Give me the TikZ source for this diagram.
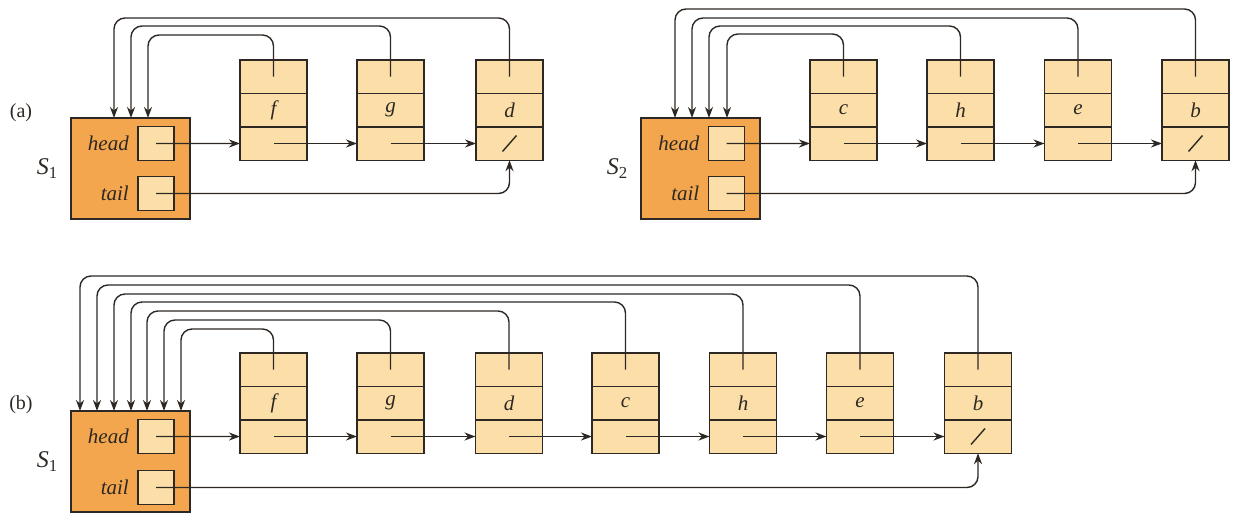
\documentclass[tikz,border=0pt]{standalone}
\usepackage{fontspec}
\setmainfont{Liberation Serif}
\usepackage{xcolor}
\usepackage{tikz}
\usetikzlibrary{arrows.meta,positioning}

\definecolor{stackorange}{RGB}{243,166,77}
\definecolor{nodepeach}{RGB}{252,222,168}
\definecolor{inkline}{RGB}{45,40,35}

\begin{document}
\begin{tikzpicture}[
  x=1pt, y=-1pt,
  node distance=0pt,
  cell/.style={rectangle, draw=inkline, fill=nodepeach, line width=1.4pt,
               minimum width=67pt, minimum height=33.4pt,
               inner sep=0pt, outer sep=0pt,
               font=\fontsize{21}{24}\selectfont\itshape, text=inkline},
  sbox/.style={rectangle, draw=inkline, fill=stackorange, line width=1.4pt,
               minimum width=119pt, minimum height=101pt,
               inner sep=0pt, outer sep=0pt},
  pbox/.style={rectangle, draw=inkline, fill=nodepeach, line width=1.4pt,
               minimum width=36pt, minimum height=34pt,
               inner sep=0pt, outer sep=0pt},
  fld/.style={font=\fontsize{21}{24}\selectfont\itshape, inner sep=0pt, text=inkline},
  lbl/.style={font=\fontsize{20}{22}\selectfont, inner sep=0pt, text=inkline},
  slbl/.style={font=\fontsize{24}{26}\selectfont, inner sep=0pt, text=inkline},
  nxt/.style={-{Stealth[length=11pt,width=8pt,inset=3.5pt]}, line width=1.4pt,
              draw=inkline, rounded corners=11pt},
  back/.style={nxt},
]
\useasboundingbox (0,0) rectangle (1233,512);

%% (a) — stack S1
\node[lbl] (taga) at (21,113) {(a)};
\node[sbox] (sa) at (130.5,168.5) {};
\node[pbox] (sah) at (156,143.5) {};
\node[pbox] (sat) at (156,193.5) {};
\node[fld, left=9pt of sah] (sahl) {head};
\node[fld, left=9pt of sat] (satl) {tail};
\node[slbl, left=13pt of sa] (sal) {\textit{S}\textsubscript{1}};

%% elements f, g, d  (three cells each: back pointer / value / next)
\node[cell] (fa1) at (273.5,76.7) {};
\node[cell, below=of fa1] (fa2) {f};
\node[cell, below=of fa2] (fa3) {};
\node[cell] (ga1) at (390.5,76.7) {};
\node[cell, below=of ga1] (ga2) {g};
\node[cell, below=of ga2] (ga3) {};
\node[cell] (da1) at (509.5,76.7) {};
\node[cell, below=of da1] (da2) {d};
\node[cell, below=of da2] (da3) {};
\draw[line width=1.4pt, draw=inkline] (da3.center) +(-7,8) -- +(7,-8);

%% (a) — stack S2
\node[sbox] (sb) at (700.5,168.5) {};
\node[pbox] (sbh) at (726.5,143.5) {};
\node[pbox] (sbt) at (726.5,193.5) {};
\node[fld, left=9pt of sbh] (sbhl) {head};
\node[fld, left=9pt of sbt] (sbtl) {tail};
\node[slbl, left=13pt of sb] (sbl) {\textit{S}\textsubscript{2}};

%% elements c, h, e, b
\node[cell] (ca1) at (843.5,76.7) {};
\node[cell, below=of ca1] (ca2) {c};
\node[cell, below=of ca2] (ca3) {};
\node[cell] (ha1) at (960.5,76.7) {};
\node[cell, below=of ha1] (ha2) {h};
\node[cell, below=of ha2] (ha3) {};
\node[cell] (ea1) at (1078,76.7) {};
\node[cell, below=of ea1] (ea2) {e};
\node[cell, below=of ea2] (ea3) {};
\node[cell] (ba1) at (1195.5,76.7) {};
\node[cell, below=of ba1] (ba2) {b};
\node[cell, below=of ba2] (ba3) {};
\draw[line width=1.4pt, draw=inkline] (ba3.center) +(-7,8) -- +(7,-8);

%% (b) — merged stack S1
\node[lbl] (tagb) at (21,405) {(b)};
\node[sbox] (sc) at (130.5,461.5) {};
\node[pbox] (sch) at (156,436.5) {};
\node[pbox] (sct) at (156,487.5) {};
\node[fld, left=9pt of sch] (schl) {head};
\node[fld, left=9pt of sct] (sctl) {tail};
\node[slbl, left=13pt of sc] (scl) {\textit{S}\textsubscript{1}};

\node[cell] (fb1) at (273.5,369.7) {};
\node[cell, below=of fb1] (fb2) {f};
\node[cell, below=of fb2] (fb3) {};
\node[cell] (gb1) at (390.5,369.7) {};
\node[cell, below=of gb1] (gb2) {g};
\node[cell, below=of gb2] (gb3) {};
\node[cell] (db1) at (509,369.7) {};
\node[cell, below=of db1] (db2) {d};
\node[cell, below=of db2] (db3) {};
\node[cell] (cb1) at (625.5,369.7) {};
\node[cell, below=of cb1] (cb2) {c};
\node[cell, below=of cb2] (cb3) {};
\node[cell] (hb1) at (743,369.7) {};
\node[cell, below=of hb1] (hb2) {h};
\node[cell, below=of hb2] (hb3) {};
\node[cell] (eb1) at (860,369.7) {};
\node[cell, below=of eb1] (eb2) {e};
\node[cell, below=of eb2] (eb3) {};
\node[cell] (bb1) at (978,369.7) {};
\node[cell, below=of bb1] (bb2) {b};
\node[cell, below=of bb2] (bb3) {};
\draw[line width=1.4pt, draw=inkline] (bb3.center) +(-7,8) -- +(7,-8);

%% ── Arrows (a), S1 ──────────────────────────────────────────────
\draw[nxt] (sah.center) -- (fa3.west);
\draw[nxt] (fa3.center) -- (ga3.west);
\draw[nxt] (ga3.center) -- (da3.west);
\draw[nxt] (sat.center) -| (da3.south);
%% back pointers to the stack, nested: nearest element on the inside
\draw[back] (fa1.center) |- (148,35) -- (148,0 |- sa.north);
\draw[back] (ga1.center) |- (131,26) -- (131,0 |- sa.north);
\draw[back] (da1.center) |- (114,18) -- (114,0 |- sa.north);

%% ── Arrows (a), S2 ──────────────────────────────────────────────
\draw[nxt] (sbh.center) -- (ca3.west);
\draw[nxt] (ca3.center) -- (ha3.west);
\draw[nxt] (ha3.center) -- (ea3.west);
\draw[nxt] (ea3.center) -- (ba3.west);
\draw[nxt] (sbt.center) -| (ba3.south);
\draw[back] (ca1.center) |- (727,34) -- (727,0 |- sb.north);
\draw[back] (ha1.center) |- (709,26) -- (709,0 |- sb.north);
\draw[back] (ea1.center) |- (692,18) -- (692,0 |- sb.north);
\draw[back] (ba1.center) |- (675,9) -- (675,0 |- sb.north);

%% ── Arrows (b) ──────────────────────────────────────────────────
\draw[nxt] (sch.center) -- (fb3.west);
\draw[nxt] (fb3.center) -- (gb3.west);
\draw[nxt] (gb3.center) -- (db3.west);
\draw[nxt] (db3.center) -- (cb3.west);
\draw[nxt] (cb3.center) -- (hb3.west);
\draw[nxt] (hb3.center) -- (eb3.west);
\draw[nxt] (eb3.center) -- (bb3.west);
\draw[nxt] (sct.center) -| (bb3.south);
\draw[back] (fb1.center) |- (181,329) -- (181,0 |- sc.north);
\draw[back] (gb1.center) |- (164,320) -- (164,0 |- sc.north);
\draw[back] (db1.center) |- (147,311) -- (147,0 |- sc.north);
\draw[back] (cb1.center) |- (131,302) -- (131,0 |- sc.north);
\draw[back] (hb1.center) |- (114,294) -- (114,0 |- sc.north);
\draw[back] (eb1.center) |- (97,285) -- (97,0 |- sc.north);
\draw[back] (bb1.center) |- (80,276) -- (80,0 |- sc.north);

\end{tikzpicture}
\end{document}
